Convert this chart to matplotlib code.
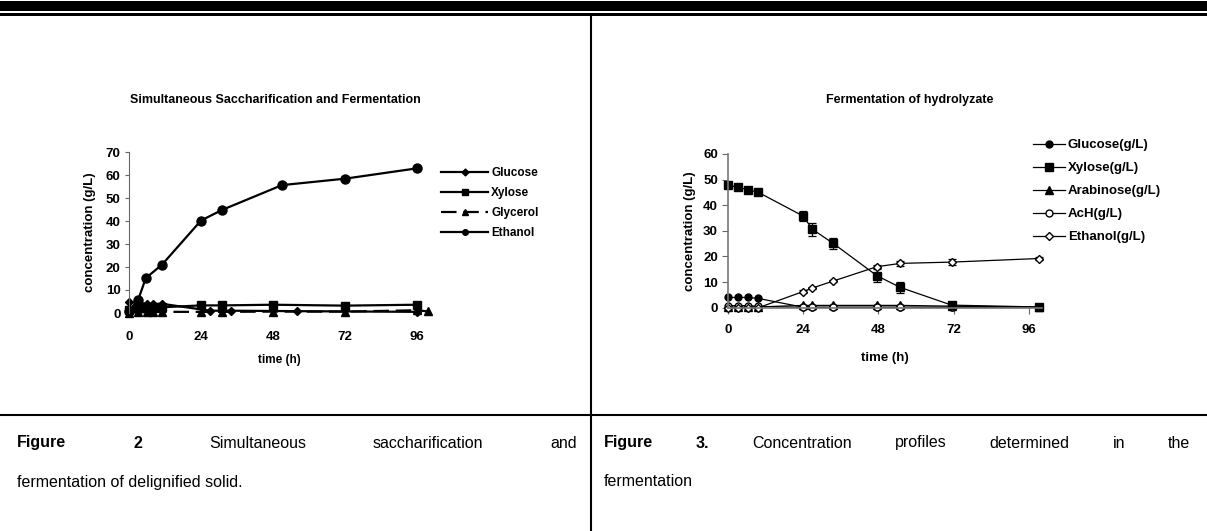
import matplotlib
matplotlib.use("Agg")
import matplotlib.pyplot as plt
from matplotlib.lines import Line2D
import numpy as np

plt.rcParams['font.family'] = ['Liberation Sans', 'DejaVu Sans']

# ---------------- data: left panel (SSF) ----------------
left_title = "Simultaneous Saccharification and Fermentation"
left_xticks = [0, 24, 48, 72, 96]
left_yticks = [0, 10, 20, 30, 40, 50, 60, 70]

glu_t = [0, 3, 6, 8, 11, 27, 34, 56, 96]
glu_y = [4.8, 4.5, 4.0, 4.0, 4.0, 1.0, 1.0, 0.8, 0.5]

xyl_t = [0, 3, 6, 8, 11, 24, 31, 48, 72, 96]
xyl_y = [1.5, 2.0, 2.0, 2.0, 2.5, 3.3, 3.3, 3.6, 3.2, 3.6]

gly_t = [0, 3, 6, 8, 11, 24, 31, 48, 72, 96, 99.5]
gly_y = [0.2, 0.3, 0.4, 0.4, 0.5, 0.5, 0.5, 0.6, 0.6, 1.2, 0.7]

eth_t = [0, 3, 5.6, 11, 24, 31, 51, 72, 96]
eth_y = [1.0, 5.5, 15.2, 21.0, 40.2, 44.8, 55.6, 58.4, 62.9]

# ---------------- data: right panel (hydrolyzate) ----------------
right_title = "Fermentation of hydrolyzate"
right_xticks = [0, 24, 48, 72, 96]
right_yticks = [0, 10, 20, 30, 40, 50, 60]

t_r = [0, 3.4, 6.6, 9.8, 24, 27, 33.6, 47.5, 55, 71.3, 99]
r_glucose = [4.0, 4.0, 4.0, 3.6, 0.2, 0.2, 0.2, 0.2, 0.2, 0.2, 0.2]
r_xylose = [47.8, 47.0, 46.0, 45.0, 35.8, 30.6, 25.1, 12.5, 7.9, 1.0, 0.3]
r_xylose_err = [0.6, 0.5, 1.0, 0.6, 2.0, 2.5, 2.0, 2.5, 2.0, 1.0, 0.3]
r_arabinose = [0.2, 0.2, 0.2, 0.3, 0.9, 0.9, 0.9, 0.9, 0.9, 0.6, 0.2]
r_ach = [0.8, 0.8, 0.8, 0.5, 0.1, 0.1, 0.1, 0.1, 0.1, 0.1, 0.1]
r_ethanol = [0.0, 0.0, 0.0, 0.0, 6.3, 7.7, 10.4, 16.0, 17.3, 17.8, 19.2]
r_ethanol_err = [0.2, 0.2, 0.2, 0.2, 0.5, 0.5, 0.5, 0.5, 1.0, 1.2, 0.4]

caption_left = [["**Figure", "**2", "Simultaneous", "saccharification", "and"],
                ["fermentation of delignified solid."]]
caption_right = [["**Figure", "**3.", "Concentration", "profiles", "determined", "in", "the"],
                 ["fermentation"]]

W, H = 1207, 531
fig = plt.figure(figsize=(W / 100, H / 100), dpi=100)
fig.patch.set_facecolor('white')

def fx(px):
    return px / W

def fy(py):
    return 1 - py / H

# ---------------- frame lines ----------------
fig.add_artist(plt.Rectangle((0, fy(11)), 1, (11 - 1) / H, transform=fig.transFigure,
                             color='black', lw=0))
fig.add_artist(plt.Rectangle((0, fy(15.5)), 1, 2.5 / H, transform=fig.transFigure,
                             color='black', lw=0))
fig.add_artist(Line2D([fx(591), fx(591)], [fy(15), 0], transform=fig.transFigure,
                      color='black', lw=1.5))
fig.add_artist(Line2D([0, 1], [fy(415), fy(415)], transform=fig.transFigure,
                      color='black', lw=1.5))

TICKFS = 9.5
# ---------------- left axes ----------------
axL = fig.add_axes([fx(129), fy(313), fx(300), 161 / H])
axL.set_xlim(0, 100)
axL.set_ylim(0, 70)
lw = 1.6
axL.plot(glu_t, glu_y, color='black', lw=lw, marker='D', ms=4, clip_on=False)
axL.plot(xyl_t, xyl_y, color='black', lw=lw, marker='s', ms=6, clip_on=False)
axL.plot(gly_t, gly_y, color='black', lw=lw, marker='^', ms=6, clip_on=False, dashes=(7, 3))
axL.plot(eth_t, eth_y, color='black', lw=lw, marker='o', ms=6.5, clip_on=False)
for s in ['top', 'right', 'bottom']:
    axL.spines[s].set_visible(False)
axL.spines['left'].set_color('#666666')
axL.spines['left'].set_linewidth(0.8)
axL.set_xticks(left_xticks)
axL.set_yticks(left_yticks)
axL.tick_params(axis='x', length=0, pad=13, labelsize=TICKFS)
axL.tick_params(axis='y', length=3, width=0.8, color='#666666', pad=3, labelsize=TICKFS)
for lab in axL.get_xticklabels() + axL.get_yticklabels():
    lab.set_fontweight('bold')
axL.set_xlabel('time (h)', fontsize=8.5, fontweight='bold', labelpad=8)
axL.set_ylabel('concentration (g/L)', fontsize=9.5, fontweight='bold', labelpad=7)
fig.text(fx(275), fy(100), left_title, ha='center', va='center', fontsize=9, fontweight='bold')

hL = [Line2D([], [], color='black', lw=lw, marker='D', ms=3.5),
      Line2D([], [], color='black', lw=lw, marker='s', ms=4),
      Line2D([], [], color='black', lw=lw, marker='^', ms=4.5, dashes=(7, 3)),
      Line2D([], [], color='black', lw=lw, marker='o', ms=4)]
axL.legend(hL, ['Glucose', 'Xylose', 'Glycerol', 'Ethanol'], loc='upper left',
           bbox_to_anchor=(fx(441), fy(167)), bbox_transform=fig.transFigure, frameon=False,
           prop={'weight': 'bold', 'size': 8.5}, handlelength=4.0, handletextpad=0.25,
           labelspacing=0.68, borderpad=0, borderaxespad=0)

# ---------------- right axes ----------------
axR = fig.add_axes([fx(727.7), fy(307.7), fx(314), 153.7 / H])
axR.set_xlim(0, 100)
axR.set_ylim(0, 60)
lw2 = 0.9
axR.plot(t_r, r_glucose, color='black', lw=lw2, marker='o', ms=5, clip_on=False)
axR.errorbar(t_r, r_xylose, yerr=r_xylose_err, color='black', lw=lw2, marker='s', ms=5.5,
             capsize=3, elinewidth=0.9, capthick=0.9, clip_on=False)
axR.plot(t_r, r_arabinose, color='black', lw=lw2, marker='^', ms=5.5, clip_on=False)
axR.plot(t_r, r_ach, color='black', lw=lw2, marker='o', ms=5, mfc='white', clip_on=False)
axR.errorbar(t_r, r_ethanol, yerr=r_ethanol_err, color='black', lw=lw2, marker='D', ms=4.5,
             mfc='white', capsize=3, elinewidth=0.9, capthick=0.9, clip_on=False)
for s in ['top', 'right']:
    axR.spines[s].set_visible(False)
for s in ['left', 'bottom']:
    axR.spines[s].set_color('#777777')
    axR.spines[s].set_linewidth(1.2)
axR.set_xticks(right_xticks)
axR.set_yticks(right_yticks)
axR.tick_params(axis='x', length=4, width=0.8, color='#666666', pad=8, labelsize=TICKFS)
axR.tick_params(axis='y', length=4, width=0.8, color='#666666', pad=3, labelsize=TICKFS)
for lab in axR.get_xticklabels() + axR.get_yticklabels():
    lab.set_fontweight('bold')
axR.set_xlabel('time (h)', fontsize=9.5, fontweight='bold', labelpad=11)
axR.set_ylabel('concentration (g/L)', fontsize=9.5, fontweight='bold', labelpad=5)
fig.text(fx(910), fy(100), right_title, ha='center', va='center', fontsize=9, fontweight='bold')

hR = [Line2D([], [], color='black', lw=lw2, marker='o', ms=5),
      Line2D([], [], color='black', lw=lw2, marker='s', ms=5.5),
      Line2D([], [], color='black', lw=lw2, marker='^', ms=5.5),
      Line2D([], [], color='black', lw=lw2, marker='o', ms=5, mfc='white'),
      Line2D([], [], color='black', lw=lw2, marker='D', ms=4.5, mfc='white')]
axR.legend(hR, ['Glucose(g/L)', 'Xylose(g/L)', 'Arabinose(g/L)', 'AcH(g/L)', 'Ethanol(g/L)'],
           loc='upper left', bbox_to_anchor=(fx(1033), fy(139)),
           bbox_transform=fig.transFigure, frameon=False,
           prop={'weight': 'bold', 'size': 9.5}, handlelength=2.4,
           handletextpad=0.25, labelspacing=0.82, borderpad=0, borderaxespad=0)

# ---------------- captions (justified) ----------------
CAPFS = 11.5
renderer = fig.canvas.get_renderer()

def draw_line(words, x0, x1, y, justify):
    texts = []
    for w in words:
        bold = w.startswith('**')
        s = w[2:] if bold else w
        t = fig.text(0, fy(y), s, fontsize=CAPFS, fontweight='bold' if bold else 'normal',
                     ha='left', va='center')
        texts.append(t)
    widths = [t.get_window_extent(renderer).width for t in texts]
    if justify and len(texts) > 1:
        gap = (x1 - x0 - sum(widths)) / (len(texts) - 1)
    else:
        gap = 4
    x = x0
    for t, wd in zip(texts, widths):
        t.set_x(fx(x))
        x += wd + gap

draw_line(caption_left[0], 17, 577, 443, True)
draw_line(caption_left[1], 17, 577, 482, False)
draw_line(caption_right[0], 604, 1190, 443, True)
draw_line(caption_right[1], 604, 1190, 482, False)

fig.savefig('out.png', dpi=100, facecolor='white')
